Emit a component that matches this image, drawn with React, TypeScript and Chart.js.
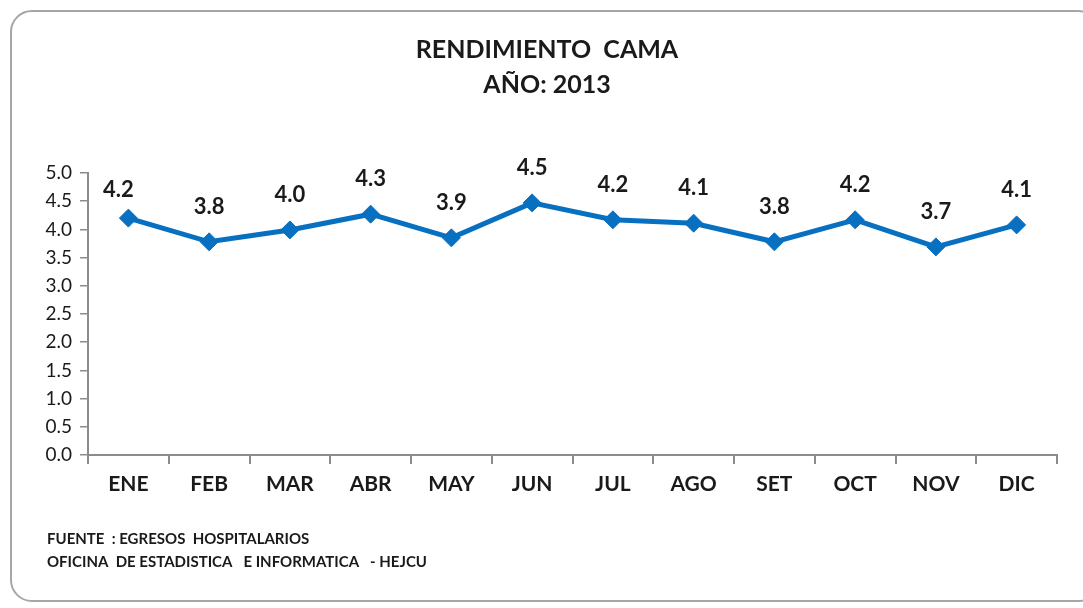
import React, { useEffect, useRef } from "react";
import { Chart, registerables } from "chart.js";

Chart.register(...registerables);

const months = ["ENE", "FEB", "MAR", "ABR", "MAY", "JUN", "JUL", "AGO", "SET", "OCT", "NOV", "DIC"];
const rendimiento = [4.2, 3.78, 3.99, 4.27, 3.85, 4.47, 4.17, 4.11, 3.78, 4.17, 3.69, 4.08];
const titleLines = ["RENDIMIENTO  CAMA", "AÑO: 2013"];
const footerLines = ["FUENTE  : EGRESOS  HOSPITALARIOS", "OFICINA  DE ESTADISTICA   E INFORMATICA   - HEJCU"];

const FONT = "Lato, 'Open Sans', sans-serif";
const TEXT = "#1a1a1a";
const BLUE = "#0870C0";

const labelPlugin = {
  id: "pointLabels",
  afterDatasetsDraw(chart: any) {
    const ctx = chart.ctx;
    const meta = chart.getDatasetMeta(0);
    ctx.save();
    ctx.font = `bold 22px ${FONT}`;
    ctx.fillStyle = TEXT;
    ctx.textAlign = "center";
    ctx.textBaseline = "middle";
    meta.data.forEach((el: any, i: number) => {
      const dx = i === 0 ? -10 : 0;
      const dy = i === 0 ? 28 : 35;
      ctx.fillText(rendimiento[i].toFixed(1), el.x + dx, el.y - dy);
    });
    ctx.restore();
  },
};

const textPlugin = {
  id: "staticText",
  afterDraw(chart: any) {
    const ctx = chart.ctx;
    ctx.save();
    ctx.fillStyle = TEXT;
    ctx.textAlign = "center";
    ctx.textBaseline = "middle";
    ctx.font = `bold 25px ${FONT}`;
    ctx.fillText(titleLines[0], 547, 50);
    ctx.fillText(titleLines[1], 547, 85);
    ctx.textAlign = "left";
    ctx.font = `bold 15px ${FONT}`;
    ctx.fillText(footerLines[0], 47, 539);
    ctx.fillText(footerLines[1], 47, 562);
    ctx.restore();
  },
};

export default function App() {
  const ref = useRef<HTMLCanvasElement>(null);
  useEffect(() => {
    if (!ref.current) return;
    const chart = new Chart(ref.current, {
      type: "line",
      data: {
        labels: months,
        datasets: [
          {
            data: rendimiento,
            borderColor: BLUE,
            backgroundColor: BLUE,
            borderWidth: 5,
            pointStyle: "rectRot",
            pointRadius: 9,
            pointBorderWidth: 1,
            pointBackgroundColor: BLUE,
            pointBorderColor: BLUE,
            tension: 0,
          },
        ],
      },
      options: {
        responsive: false,
        animation: false,
        layout: { padding: { top: 173, right: 26, bottom: 0, left: 0 } },
        plugins: { legend: { display: false }, title: { display: false }, tooltip: { enabled: false } },
        scales: {
          x: {
            offset: true,
            grid: {
              display: true,
              offset: true,
              drawOnChartArea: false,
              drawTicks: true,
              tickLength: 9,
              color: "#8c8c8c",
              lineWidth: 2,
            },
            border: { display: true, color: "#8c8c8c", width: 2 },
            ticks: {
              color: TEXT,
              font: { family: FONT, size: 21, weight: "bold" },
              padding: 8,
              maxRotation: 0,
            },
            afterFit(scale: any) {
              scale.height = 153;
            },
          },
          y: {
            min: 0,
            max: 5,
            ticks: {
              stepSize: 0.5,
              color: TEXT,
              font: { family: FONT, size: 19 },
              padding: 8,
              callback: (v: any) => Number(v).toFixed(1),
            },
            grid: {
              display: true,
              drawOnChartArea: false,
              drawTicks: true,
              tickLength: 8,
              color: "#8c8c8c",
              lineWidth: 1.5,
            },
            border: { display: true, color: "#8c8c8c", width: 2 },
            afterFit(scale: any) {
              scale.width = 88;
            },
          },
        },
      },
      plugins: [labelPlugin, textPlugin],
    });
    return () => chart.destroy();
  }, []);

  return (
    <div style={{ position: "absolute", left: 0, top: 0, width: 1083, height: 608, background: "#fff", overflow: "hidden" }}>
      <div
        style={{
          position: "absolute",
          left: 10,
          top: 10,
          width: 1090,
          height: 592,
          border: "2px solid #a6a6a6",
          borderRadius: 22,
          boxSizing: "border-box",
        }}
      />
      <canvas ref={ref} width={1083} height={608} style={{ position: "absolute", left: 0, top: 0 }} />
    </div>
  );
}
